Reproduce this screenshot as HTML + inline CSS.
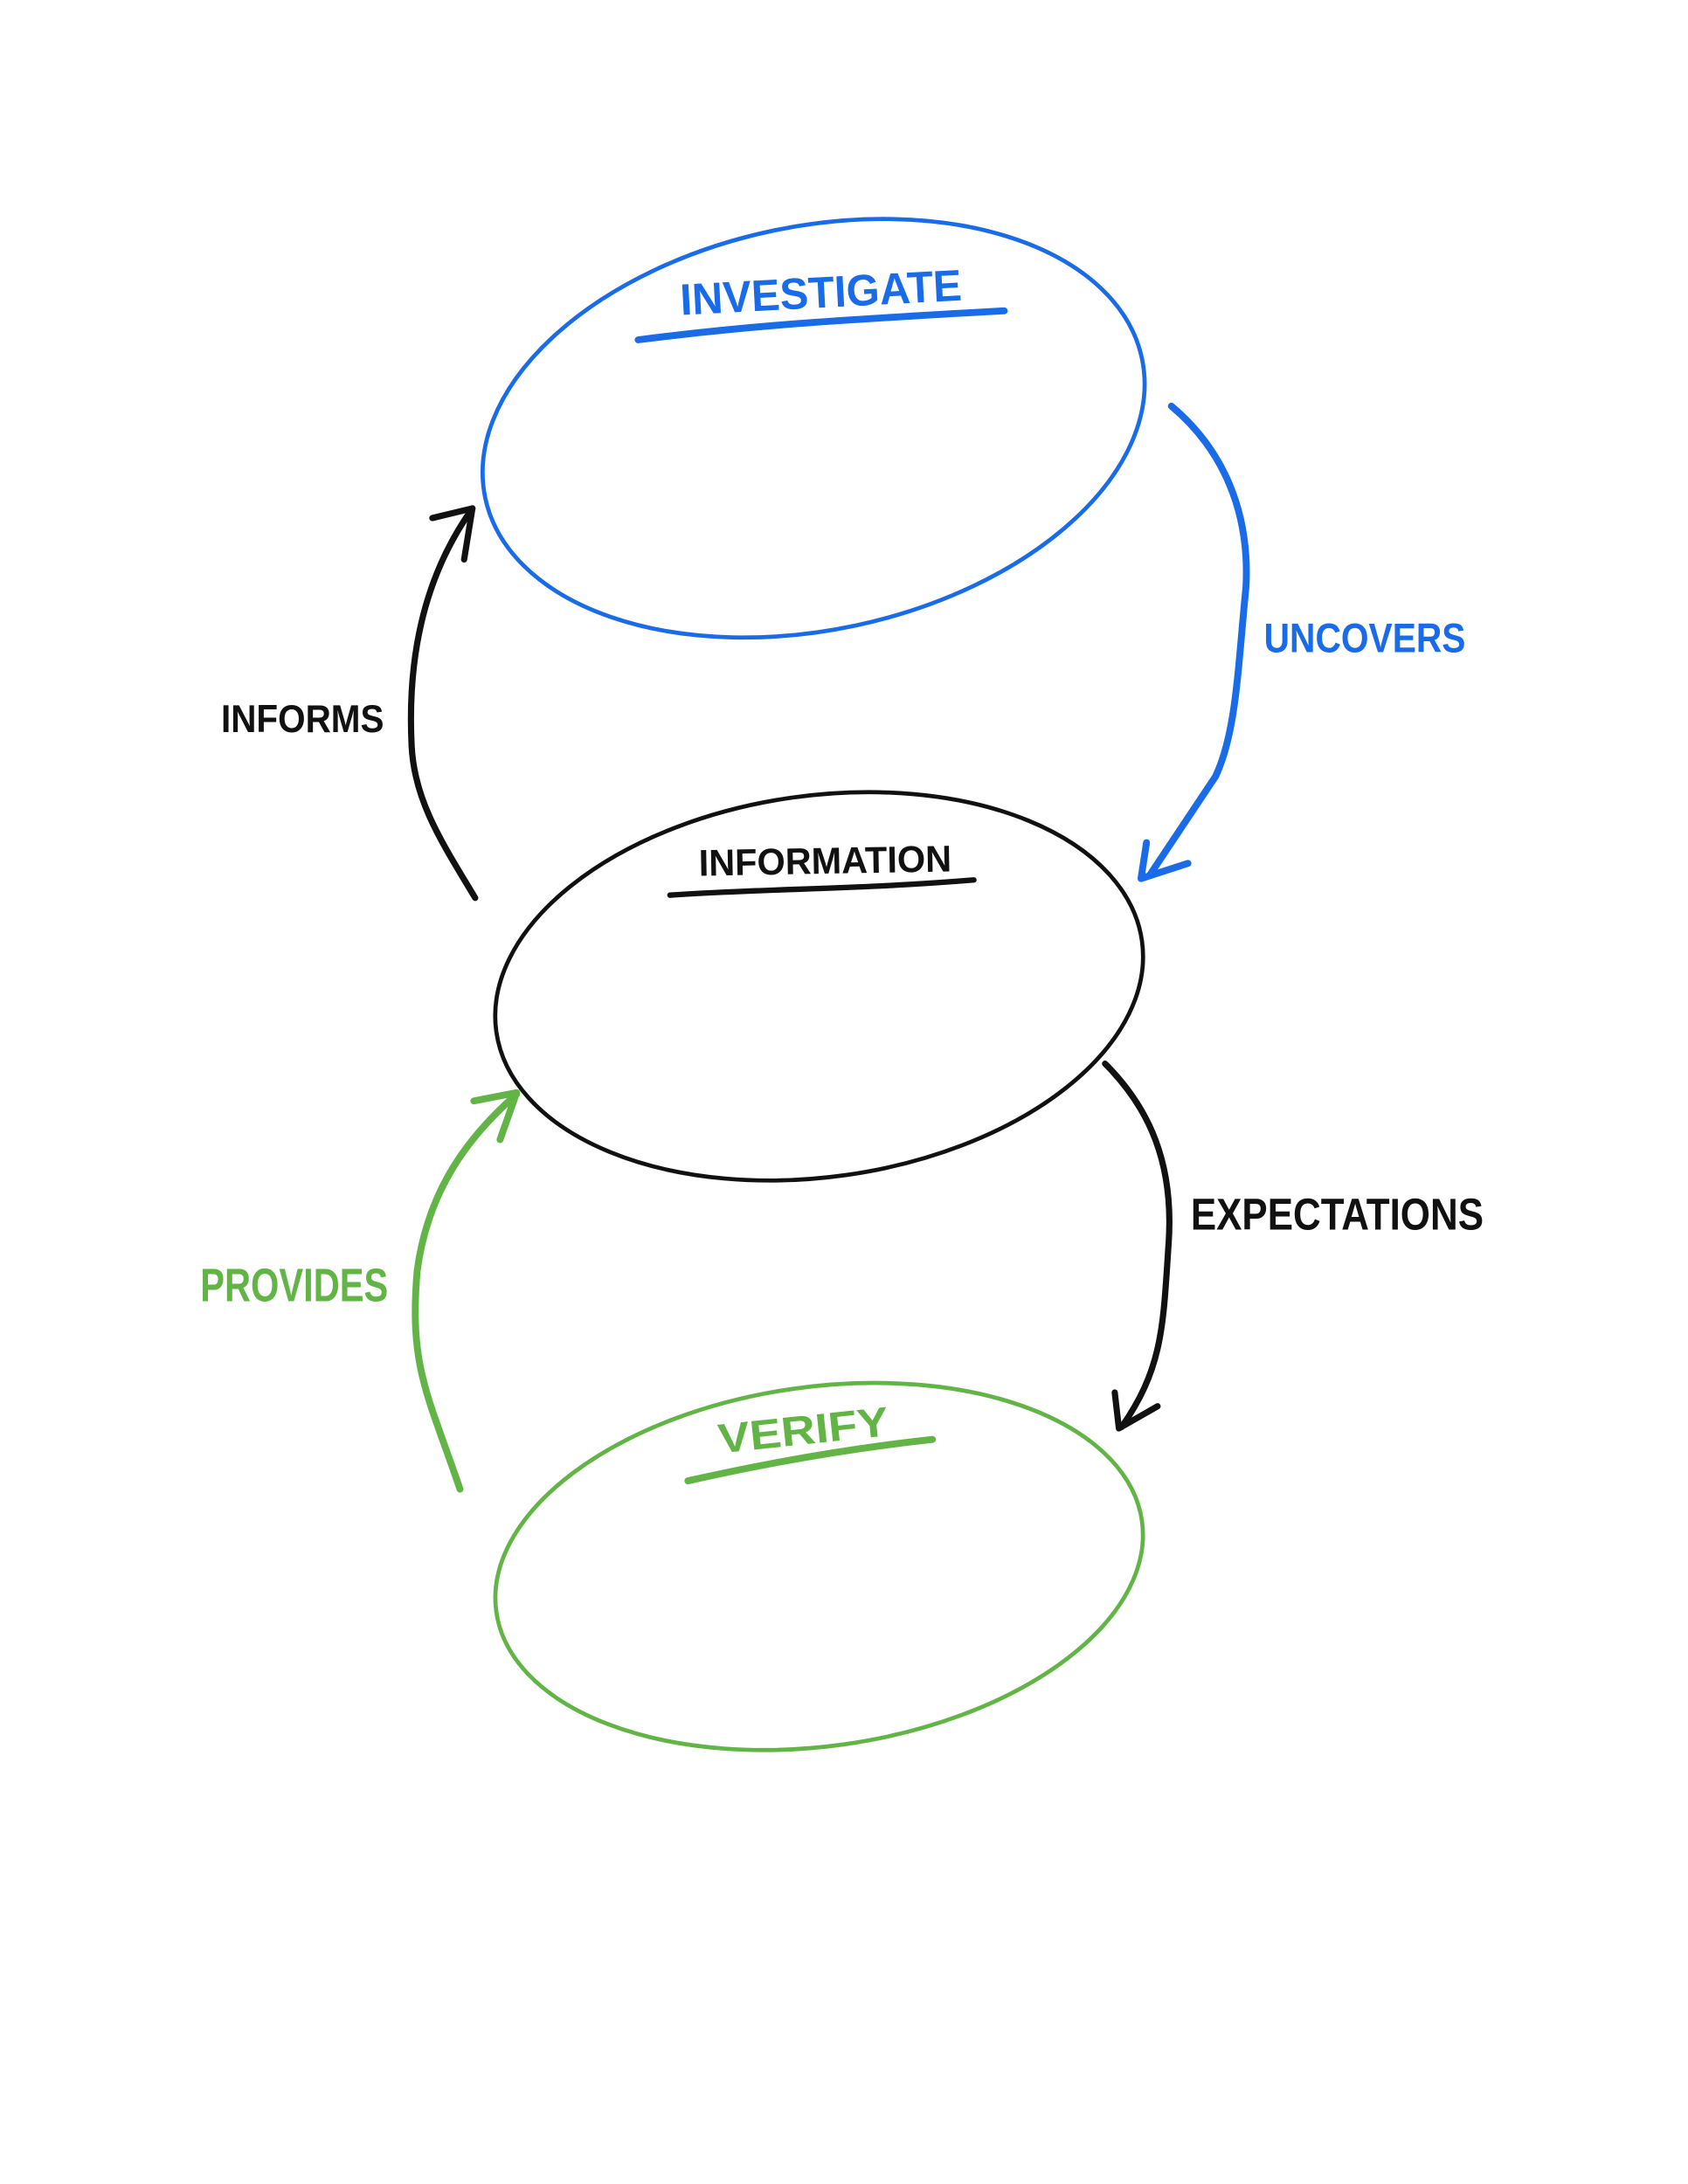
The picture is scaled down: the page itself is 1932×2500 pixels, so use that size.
<!DOCTYPE html>
<html><head><meta charset="utf-8"><style>
html,body{margin:0;padding:0;background:#fff;}
svg{display:block;}
text{font-family:"Liberation Sans",sans-serif;font-weight:bold;}
</style></head><body>
<svg width="1932" height="2500" viewBox="0 0 1222 1581" preserveAspectRatio="none" xmlns="http://www.w3.org/2000/svg">
<g fill="none" stroke-linecap="round" stroke-linejoin="round">
<ellipse cx="589" cy="310" rx="243" ry="146" transform="rotate(-12 589 310)" stroke="#1a6be8" stroke-width="3"/>
<ellipse cx="593" cy="714" rx="236" ry="138" transform="rotate(-8 593 714)" stroke="#111" stroke-width="3"/>
<ellipse cx="593" cy="1134" rx="236" ry="130" transform="rotate(-8 593 1134)" stroke="#63b446" stroke-width="3"/>
<path d="M462,246 C540,236 600,232 727,225" stroke="#1a6be8" stroke-width="5"/>
<path d="M485,648 C560,643 620,644 705,637" stroke="#111" stroke-width="4"/>
<path d="M498,1072 C560,1058 620,1048 675,1042" stroke="#63b446" stroke-width="5"/>
<path d="M848,294 C885,325 905,370 902,425 C896,485 895,530 880,562 L832,634" stroke="#1a6be8" stroke-width="5"/>
<path d="M830,610 L826,636 L860,625" stroke="#1a6be8" stroke-width="5"/>
<path d="M344,650 C320,610 300,580 298,540 C295,480 305,420 342,368" stroke="#111" stroke-width="4.5"/>
<path d="M313,375 L342,368 L336,405" stroke="#111" stroke-width="4.5"/>
<path d="M800,770 C832,802 850,842 846,900 C842,960 842,990 812,1033" stroke="#111" stroke-width="4.5"/>
<path d="M807,1008 L810,1034 L838,1018" stroke="#111" stroke-width="4.5"/>
<path d="M333,1078 C310,1010 296,990 302,920 C310,860 340,822 374,792" stroke="#63b446" stroke-width="5"/>
<path d="M343,797 L374,791 L362,825" stroke="#63b446" stroke-width="5"/>
</g>
<text x="493" y="228" font-size="32" fill="#1a6be8" textLength="204" lengthAdjust="spacingAndGlyphs" transform="rotate(-3 493 228)">INVESTIGATE</text>
<text x="915" y="472" font-size="30" fill="#1a6be8" textLength="146" lengthAdjust="spacingAndGlyphs">UNCOVERS</text>
<text x="160" y="530" font-size="28" fill="#111" textLength="118" lengthAdjust="spacingAndGlyphs">INFORMS</text>
<text x="506" y="634" font-size="27" fill="#111" textLength="183" lengthAdjust="spacingAndGlyphs" transform="rotate(-1 506 634)">INFORMATION</text>
<text x="862" y="890" font-size="32" fill="#111" textLength="212" lengthAdjust="spacingAndGlyphs">EXPECTATIONS</text>
<text x="145" y="942" font-size="34" fill="#63b446" textLength="136" lengthAdjust="spacingAndGlyphs">PROVIDES</text>
<text x="521" y="1052" font-size="30" fill="#63b446" textLength="124" lengthAdjust="spacingAndGlyphs" transform="rotate(-6 521 1052)">VERIFY</text>
</svg>
</body></html>
